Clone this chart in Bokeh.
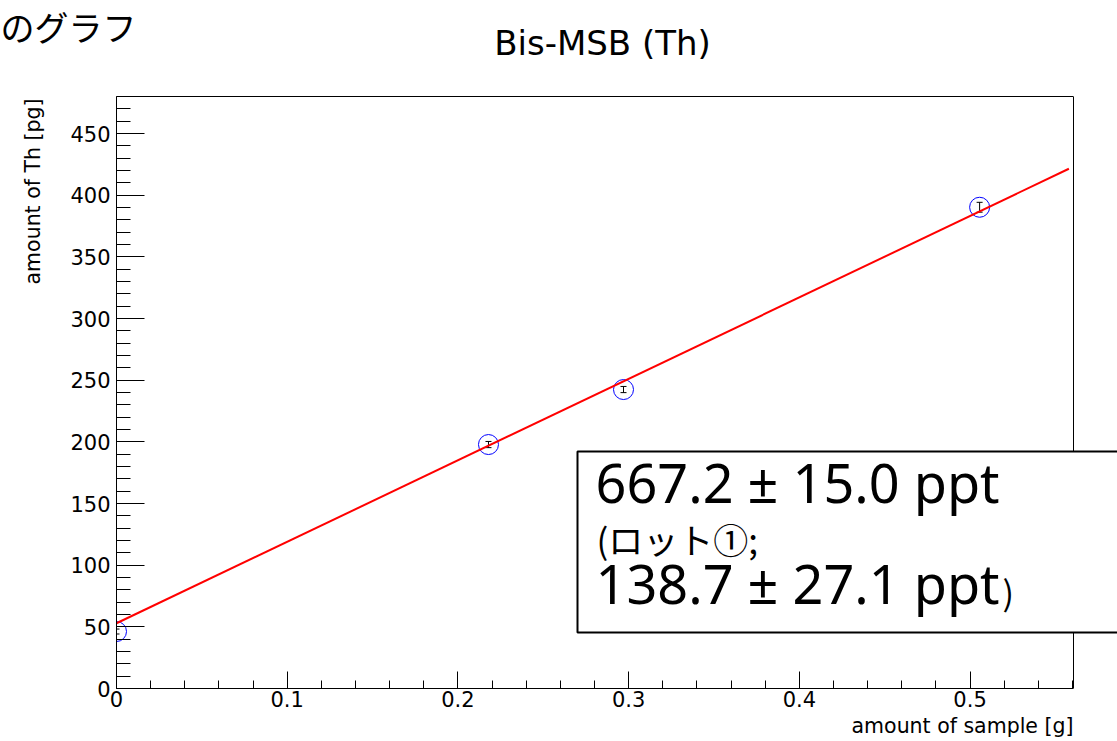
import math
from bokeh.plotting import figure
from bokeh.models import (Range1d, SingleIntervalTicker, FixedTicker, LinearAxis,
                          Span, Label, ColumnDataSource, Whisker, TeeHead)
from bokeh.embed import file_html
from bokeh.resources import INLINE

# ---------------- data ----------------
sample_g = [0.0, 0.2179, 0.2970, 0.5056]          # amount of sample [g]
th_pg = [46.2, 197.8, 242.4, 390.2]               # amount of Th [pg]
th_err = [2.0, 2.5, 2.5, 4.0]                     # error bars [pg]
fit_x = [0.0, 0.5579]                             # fitted line end points [g]
fit_y = [52.9, 421.4]                             # fitted line end points [pg]
x_ticks = [0, 0.1, 0.2, 0.3, 0.4, 0.5]
y_ticks = [0, 50, 100, 150, 200, 250, 300, 350, 400, 450]

TITLE = "Bis-MSB (Th)"
X_TITLE = "amount of sample [g]"
Y_TITLE = "amount of Th [pg]"
CORNER = "のグラフ"
BOX_LINE1 = "667.2 ± 15.0 ppt"
BOX_LINE2 = "(ロット①;"
BOX_LINE3 = "138.7 ± 27.1 ppt"
BOX_LINE3_END = ")"

XMAX = 0.5606
YMAX = 480.0

# ---------------- layout (pixels) ----------------
W, H = 1117, 741
FL, FR, FT, FB = 116, 1117, 96, 688
X_AXIS_END_PX = 1073
XR_END = XMAX * (FR - FL) / (X_AXIS_END_PX - FL)
BASE_SHIFT = 0.44   # em: correction for where an "alphabetic" label baseline lands


def px2x(px):
    return (px - FL) / (FR - FL) * XR_END


def py2y(py):
    return (FB - py) / (FB - FT) * YMAX


def text_label(text, px, py, size, font, align="left", angle=0.0):
    """Label whose alphabetic baseline sits at canvas pixel (px, py)."""
    shift = BASE_SHIFT * size
    if angle:
        px = px - shift
    else:
        py = py - shift
    return Label(x=px2x(px), y=py2y(py), text=text, text_font=font,
                 text_font_size=f"{size}px", text_color="black", angle=angle,
                 text_align=align, text_baseline="alphabetic")


LABEL_FONT = "DejaVu Sans"
CJK_FONT = "Noto Sans CJK JP"
BIG_FONT = "Noto Sans"

p = figure(width=W, height=H, x_range=Range1d(0, XR_END), y_range=Range1d(0, YMAX),
           output_backend="svg", toolbar_location=None,
           min_border_left=FL, min_border_right=W - FR,
           min_border_top=FT, min_border_bottom=H - FB)
p.outline_line_color = None
p.grid.visible = False
p.background_fill_color = "white"
p.border_fill_color = "white"

xa = p.xaxis[0]
xa.bounds = (0, XMAX)
xa.ticker = SingleIntervalTicker(interval=0.1, num_minor_ticks=5)
xa.major_tick_in = 17
xa.major_tick_out = 0
xa.minor_tick_in = 8
xa.minor_tick_out = 0
xa.axis_line_color = "black"
xa.major_tick_line_color = "black"
xa.minor_tick_line_color = "black"
xa.major_label_text_font = LABEL_FONT
xa.major_label_text_font_size = "21px"
xa.major_label_text_color = "black"
xa.major_label_standoff = 2
xa.major_label_overrides = {t: ("0" if t == 0 else str(t)) for t in x_ticks}

ya = p.yaxis[0]
ya.ticker = SingleIntervalTicker(interval=50, num_minor_ticks=5)
ya.major_tick_in = 28
ya.major_tick_out = 0
ya.minor_tick_in = 14
ya.minor_tick_out = 0
ya.axis_line_color = "black"
ya.major_tick_line_color = "black"
ya.minor_tick_line_color = "black"
ya.major_label_text_font = LABEL_FONT
ya.major_label_text_font_size = "21px"
ya.major_label_text_color = "black"
ya.major_label_standoff = 6
ya.major_label_overrides = {t: str(t) for t in y_ticks}

# top frame line
top = LinearAxis(bounds=(0, XMAX), ticker=FixedTicker(ticks=[]),
                 major_tick_line_color=None, minor_tick_line_color=None,
                 major_label_text_font_size="0px", major_label_standoff=0,
                 axis_line_color="black")
p.add_layout(top, "above")

# texts outside the frame live in the side panels (not clipped there)
p.add_layout(text_label(TITLE, 602, 57, 34, LABEL_FONT, align="center"), "above")
p.add_layout(text_label(CORNER, 0, 41, 34, CJK_FONT, align="left"), "above")
p.add_layout(text_label(X_TITLE, X_AXIS_END_PX, 735, 20.5, LABEL_FONT, align="right"), "below")
p.add_layout(text_label(Y_TITLE, 42, 98, 20.5, LABEL_FONT, align="right",
                        angle=math.pi / 2), "left")

# right frame line (under the glyphs so the text box hides it)
p.add_layout(Span(location=XMAX, dimension="height", line_color="black",
                  line_width=1, level="underlay"))

# ---------------- data marks ----------------
src = ColumnDataSource(dict(x=sample_g, y=th_pg,
                            lo=[v - e for v, e in zip(th_pg, th_err)],
                            hi=[v + e for v, e in zip(th_pg, th_err)]))
p.scatter("x", "y", source=src, marker="circle", size=20, fill_color=None,
          line_color="blue", line_width=1)
p.add_layout(Whisker(source=src, base="x", lower="lo", upper="hi", dimension="height",
                     line_color="black", line_width=1,
                     upper_head=TeeHead(size=6, line_color="black", line_width=1),
                     lower_head=TeeHead(size=6, line_color="black", line_width=1)))
p.line(fit_x, fit_y, line_color="red", line_width=2)

# ---------------- text box ----------------
p.quad(left=[px2x(577)], right=[px2x(1140)], top=[py2y(451)], bottom=[py2y(632)],
       fill_color="white", line_color="black", line_width=2)

p.add_layout(text_label(BOX_LINE1, 595, 505, 54, BIG_FONT))
p.add_layout(text_label(BOX_LINE2, 596, 553, 35, CJK_FONT))
p.add_layout(text_label(BOX_LINE3, 595, 606, 54, BIG_FONT))
p.add_layout(text_label(BOX_LINE3_END, 1002, 606, 34, CJK_FONT))

open("out.html", "w").write(file_html(p, INLINE))
